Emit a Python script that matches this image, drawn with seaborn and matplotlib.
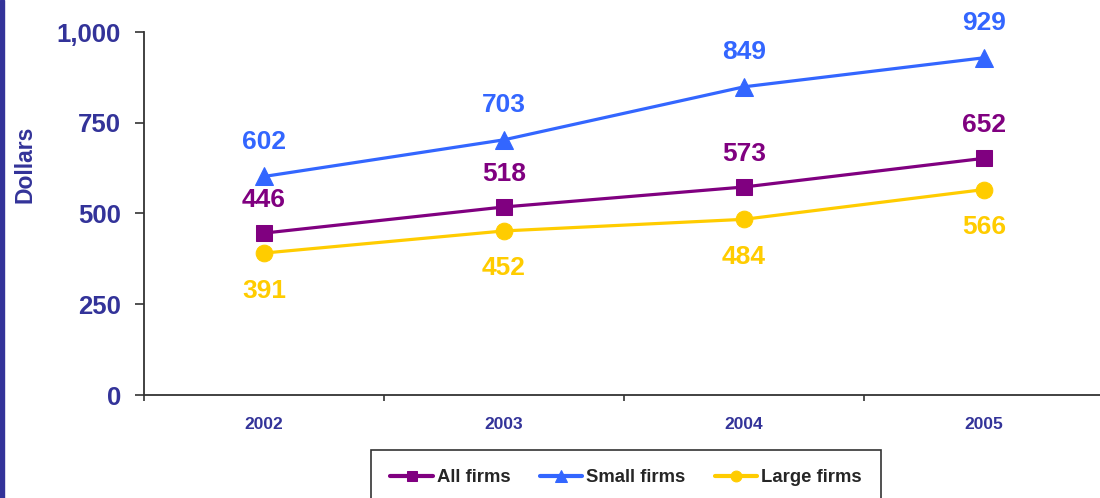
import numpy as np
import pandas as pd
import matplotlib
matplotlib.use("Agg")
import matplotlib.pyplot as plt
import seaborn as sns
from matplotlib.ticker import FixedLocator, FuncFormatter

years = ["2002", "2003", "2004", "2005"]
all_firms = [446, 518, 573, 652]
small_firms = [602, 703, 849, 929]
large_firms = [391, 452, 484, 566]

series_names = ["All firms", "Small firms", "Large firms"]
colors = {"All firms": "#800080", "Small firms": "#3366FF", "Large firms": "#FFCC00"}
markers = {"All firms": "s", "Small firms": "^", "Large firms": "o"}
label_offset = {"All firms": 24, "Small firms": 25, "Large firms": -27}

navy = "#333399"

df = pd.DataFrame({
    "year": years * 3,
    "pos": list(range(len(years))) * 3,
    "value": all_firms + small_firms + large_firms,
    "series": [s for s in series_names for _ in years],
})

sns.set_style("white")
plt.rcParams["font.family"] = ["Liberation Sans", "DejaVu Sans"]

fig = plt.figure(figsize=(11, 4.98), dpi=100)
ax = fig.add_axes([144 / 1100, 1 - 395 / 498, 960 / 1100, 363 / 498])

for name in series_names:
    d = df[df["series"] == name]
    sns.lineplot(data=d, x="pos", y="value", ax=ax, color=colors[name],
                 marker=markers[name], markersize=12 if name != "Small firms" else 13,
                 markeredgecolor=colors[name], linewidth=2.3, label=name)
    for x, y in zip(d["pos"], d["value"]):
        ax.annotate(str(y), (x, y), textcoords="offset points",
                    xytext=(0, label_offset[name]), ha="center", va="center",
                    fontsize=19, fontweight="bold", color=colors[name])

ax.set_xlim(-0.5, 3.5)
ax.set_ylim(0, 1000)
ax.set_yticks([0, 250, 500, 750, 1000])
ax.yaxis.set_major_formatter(FuncFormatter(lambda v, p: f"{int(v):,}"))
ax.set_xticks(range(len(years)))
ax.set_xticklabels(years)
ax.xaxis.set_minor_locator(FixedLocator([-0.5, 0.5, 1.5, 2.5]))

for s in ["top", "right"]:
    ax.spines[s].set_visible(False)
for s in ["left", "bottom"]:
    ax.spines[s].set_color("#333333")
    ax.spines[s].set_linewidth(1.3)

ax.tick_params(axis="y", which="major", direction="out", length=6.5, width=1.2,
               color="#333333", labelsize=18.5, labelcolor=navy, pad=10, left=True)
ax.tick_params(axis="x", which="major", length=0, labelsize=12.5, labelcolor=navy, pad=16)
ax.tick_params(axis="x", which="minor", direction="out", length=4.5, width=1.2,
               color="#333333", bottom=True)
for lbl in ax.get_yticklabels() + ax.get_xticklabels():
    lbl.set_fontweight("bold")

ax.set_xlabel("")
ax.set_ylabel("Dollars", fontsize=16.5, fontweight="bold", color=navy)
ax.yaxis.set_label_coords(-0.112, 0.635)

ax.legend_.remove()
handles, labels = ax.get_legend_handles_labels()
leg = fig.legend(handles, labels, loc="upper center", bbox_to_anchor=(626 / 1100, 1 - 450 / 498),
                 ncol=3, frameon=True, fancybox=False, edgecolor="black",
                 prop={"size": 13.3, "weight": "bold"}, handlelength=2.3, handletextpad=0.2,
                 columnspacing=1.6, borderpad=1.05, borderaxespad=0, markerscale=0.65)
leg.get_frame().set_linewidth(1.2)
for line in leg.get_lines():
    line.set_linewidth(3)

fig.add_artist(plt.Rectangle((0, 0), 4 / 1100, 1, transform=fig.transFigure,
                             color=navy, zorder=5))

fig.savefig("out.png", dpi=100)
